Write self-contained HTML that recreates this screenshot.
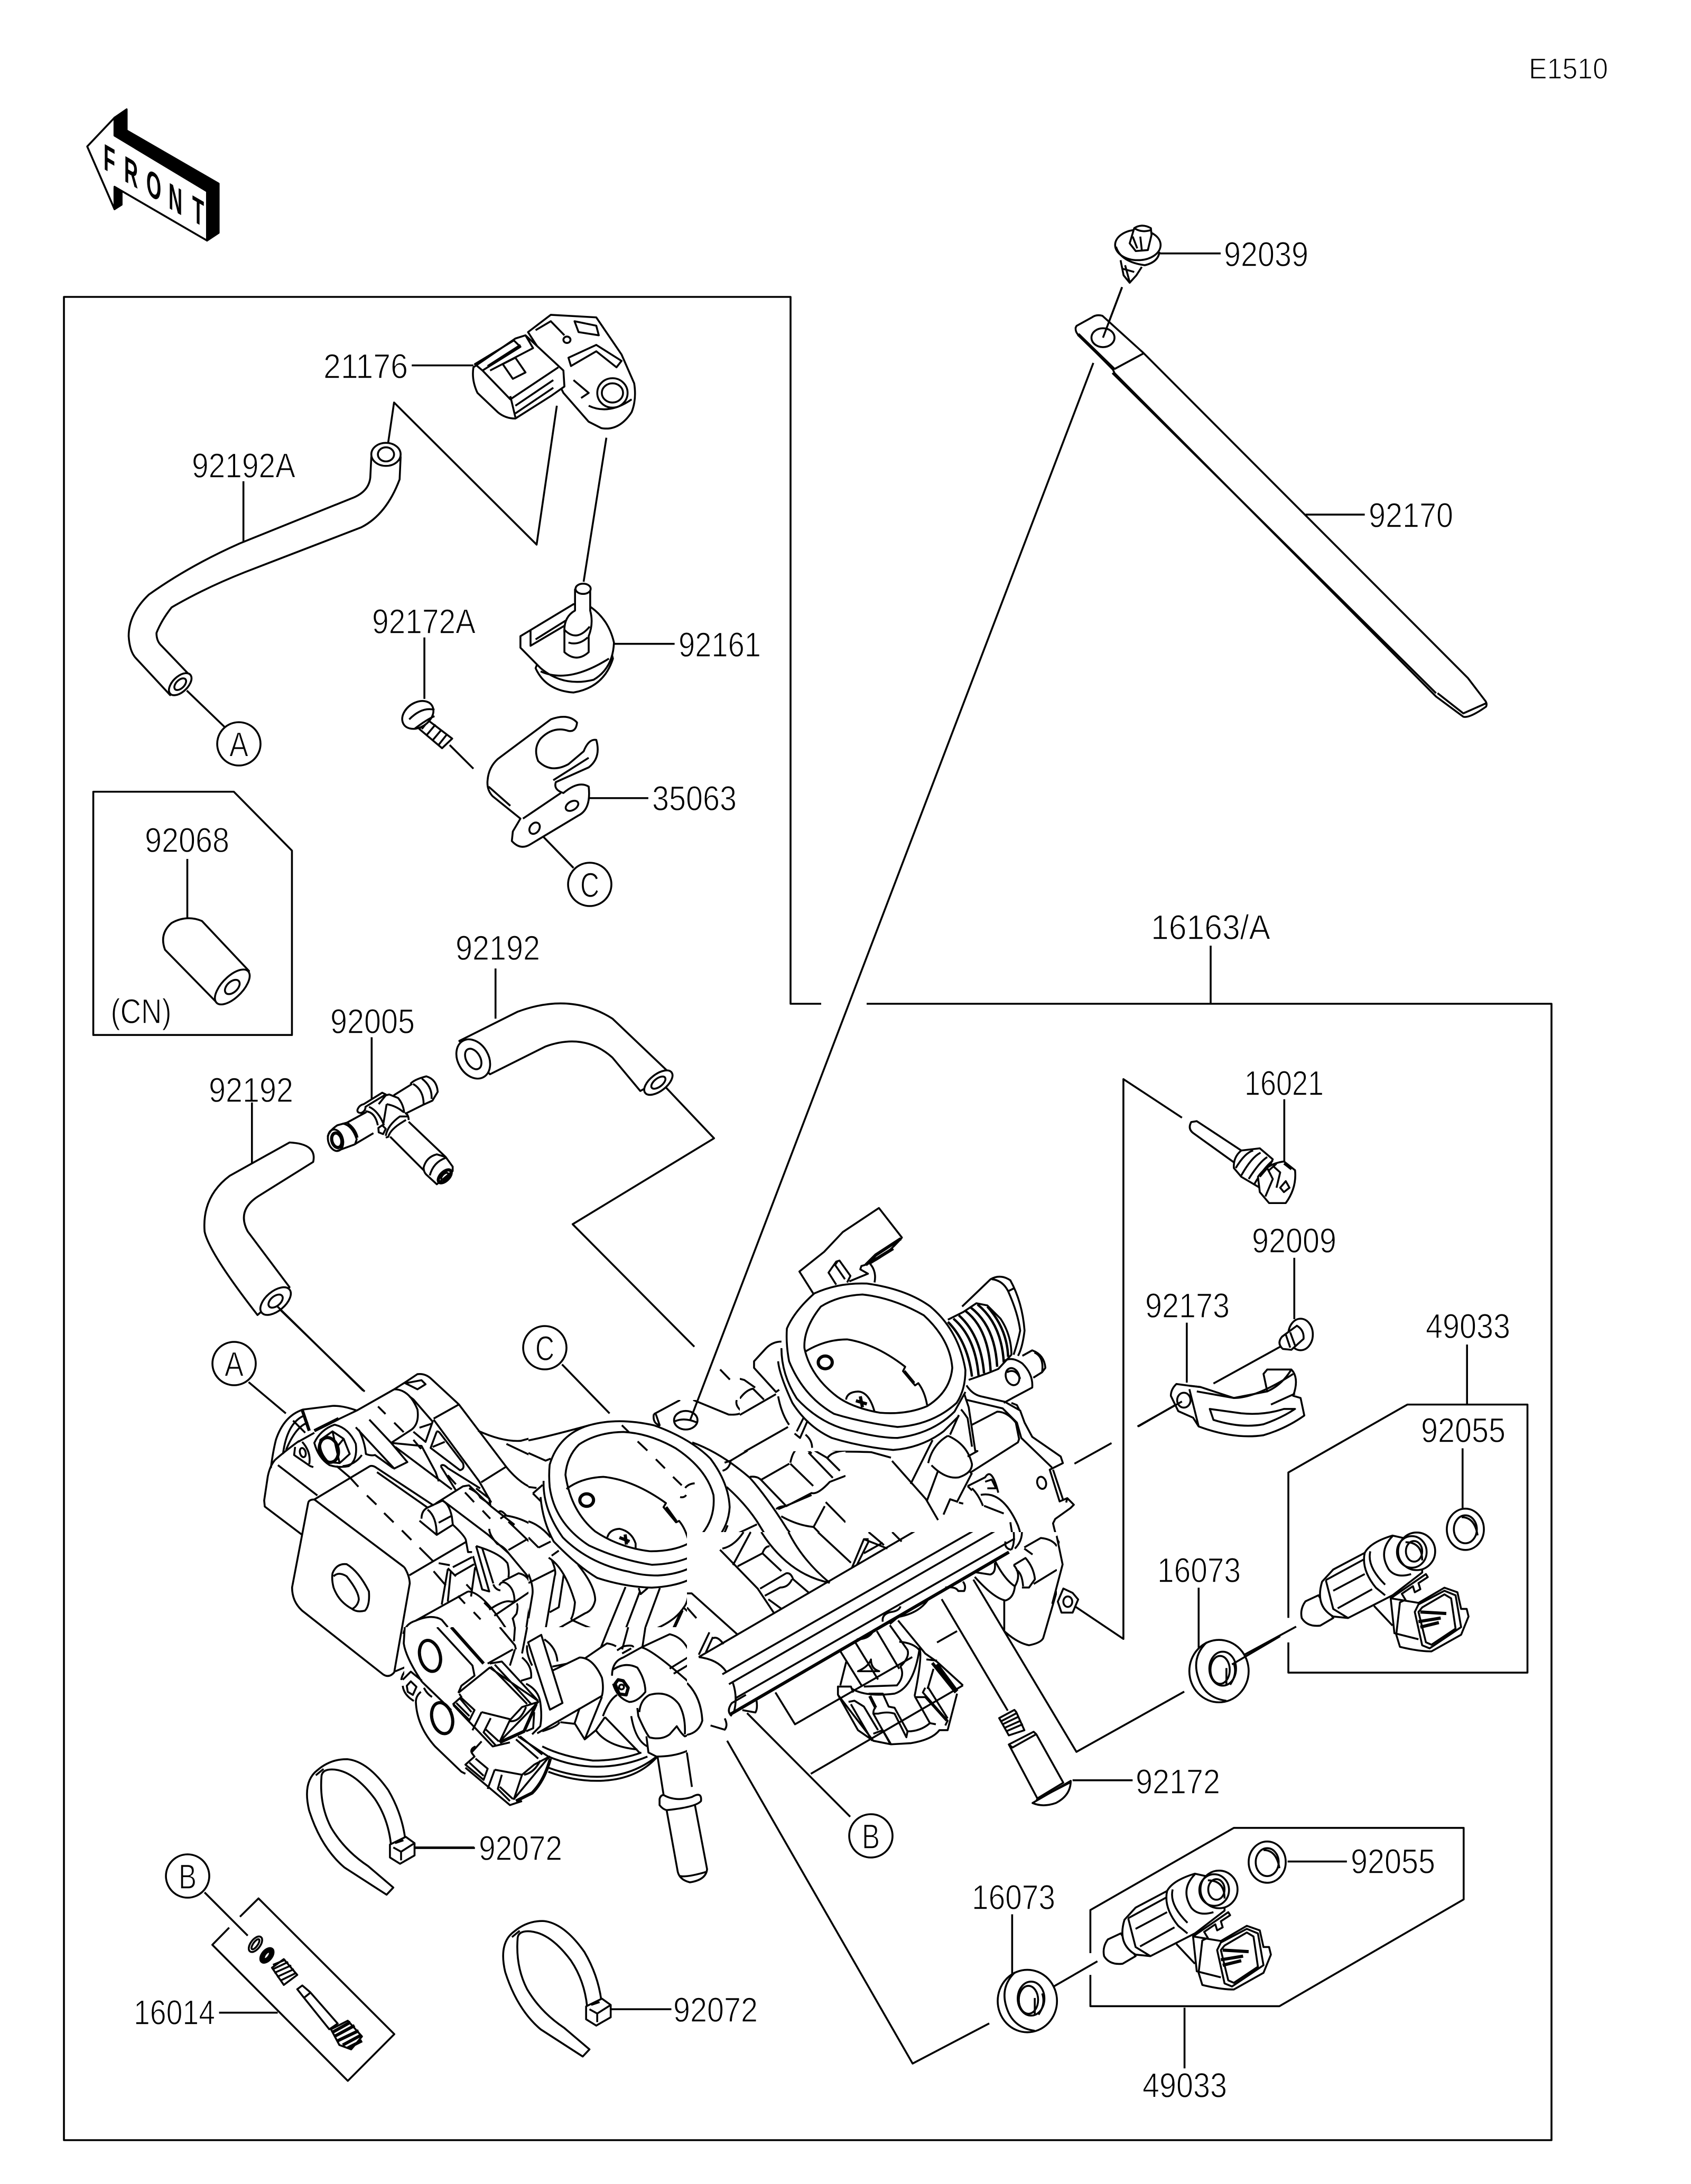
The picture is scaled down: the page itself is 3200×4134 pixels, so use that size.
<!DOCTYPE html>
<html><head><meta charset="utf-8"><style>
html,body{margin:0;padding:0;background:#fff}
svg{display:block}
svg *{vector-effect:non-scaling-stroke}
path,ellipse,circle{fill:none;stroke:#000;stroke-width:3.6;stroke-linejoin:round;stroke-linecap:butt}
.w{fill:#fff}
.k{fill:#000}
.t{stroke-width:6}
.d{stroke-dasharray:42 24}
text{font-family:"Liberation Sans",sans-serif;font-size:66px;text-anchor:middle;fill:#000;stroke:#fff;stroke-width:1.4}
.f{font-weight:bold;font-size:70px;stroke:none}
</style></head><body>
<svg xmlns="http://www.w3.org/2000/svg" width="3200" height="4134" viewBox="0 0 3200 4134">
<rect width="3200" height="4134" fill="#fff"/>
<defs>
<clipPath id="ca"><rect x="400" y="2500" width="600" height="580"/><rect x="400" y="3080" width="365" height="200"/></clipPath>
<clipPath id="cb"><rect x="1000" y="2650" width="400" height="250"/><rect x="1400" y="2747" width="200" height="153"/><rect x="1000" y="2900" width="300" height="180"/></clipPath>
<clipPath id="cc"><rect x="1400" y="2200" width="650" height="547"/><rect x="1600" y="2747" width="450" height="153"/><rect x="2000" y="2900" width="60" height="30"/></clipPath>
<clipPath id="cd"><rect x="720" y="3080" width="580" height="620"/></clipPath>
<clipPath id="ce"><rect x="1300" y="2900" width="700" height="720"/></clipPath>
<g id="tie">
<path class="w" d="M775 780L755 805L630 710Q560 640 525 510Q505 410 550 370Q590 330 640 332Q700 340 760 440Q800 520 810 608L768 630Q760 540 720 470Q660 375 600 368Q565 365 562 390Q555 490 590 570Q630 650 700 705Z"/>
<path d="M545 388L568 366"/>
<path class="w" d="M765 630L812 603L838 625L838 668L795 697L765 675Z"/>
<path d="M798 655L838 625M798 655L775 640M798 655L798 685M780 625L805 615"/>
</g>
<g id="inj">
<path class="w" d="M600 975L565 995Q550 1020 555 1050Q570 1080 605 1075L640 1050Z"/>
<path class="w" d="M610 930L640 890L725 835Q740 800 800 778L880 800L880 900L800 975L680 1050L640 1045Q590 1010 610 930Z"/>
<path d="M620 925L640 1020L680 1050M640 960L725 905M652 1018L745 955M620 925L725 855M725 835Q715 890 755 950L780 975M740 830Q730 880 780 940M800 780Q760 830 790 890Q810 920 850 905"/>
<ellipse class="w" cx="865" cy="830" rx="50" ry="62"/><ellipse cx="852" cy="832" rx="40" ry="52"/><ellipse cx="858" cy="830" rx="22" ry="34"/>
<path d="M835 800Q880 800 880 860"/>
<path class="w" d="M795 985L890 905L895 915L870 935L875 955L860 965L855 945L825 970L835 990L820 998L810 1105L820 1145Q870 1160 905 1160L985 1105L1005 1045L1000 1020L985 1020L975 965L940 950L870 1000Z"/>
<path d="M795 985L805 1100L870 1120M750 1010L800 1075"/>
<path d="M860 1030L880 1140L900 1150L985 1080L970 975L940 960L870 1005ZM870 1030L890 1130L905 1138L970 1085L958 985L940 972L880 1015Z"/>
<path class="t" d="M875 1030L945 1035M870 1062L930 1050M875 1080L925 1065"/>
</g>
<g id="seal">
<ellipse class="w" cx="865" cy="110" rx="80" ry="103"/><path d="M832 15Q785 70 815 150Q835 200 885 208"/>
<ellipse cx="875" cy="102" rx="36" ry="56"/><ellipse cx="868" cy="106" rx="26" ry="46"/><path d="M885 100L885 155M905 85Q915 120 895 155"/>
</g>
<g id="ring"><ellipse class="w" cx="995" cy="740" rx="50" ry="68"/><ellipse cx="995" cy="740" rx="31" ry="46"/><path d="M985 700Q1020 700 1028 760"/></g>
</defs>

<!-- frame -->
<path d="M1554 1900H1496V562H121V4051H2936V1900H1640"/>
<path d="M2291 1790V1900"/>
<path d="M2069 687L1306 2688"/>
<path d="M1376 3295L1727 3906L1872 3830"/>
<path d="M1842 2990L2037 3316L2241 3202"/>
<path d="M1782 3027L1907 3238"/>

<!-- FRONT -->
<g transform="translate(100 150) scale(.9566 1.2117)">
<path class="w" d="M68 105L122 60V88L305 175V252L122 168V203Z"/>
<path class="k" d="M122 60L146 47V80L328 163V240L305 252V175L122 88ZM122 170L122 203L136 196V176Z"/>
</g>
<text class="f" transform="translate(207 326) skewY(30) scale(.52 1)">F</text>
<text class="f" transform="translate(248 350) skewY(30) scale(.52 1)">R</text>
<text class="f" transform="translate(291 375) skewY(30) scale(.52 1)">O</text>
<text class="f" transform="translate(332 401) skewY(30) scale(.52 1)">N</text>
<text class="f" transform="translate(375 424) skewY(30) scale(.52 1)">T</text>

<!-- Z1 upper-left parts -->
<g transform="translate(100 150) scale(.9566 1.2117)">
<path d="M377 628V722M662 575L675 505L957 727L997 510M265 955L340 1012M710 447H832M1050 785L1095 560M1110 882H1230M735 872V968M785 1040L832 1077M1060 1123H1178M960 1175L1030 1232M266 1218V1310"/>
<path d="M80 1113H358L473 1205V1493H80Z"/>
<path class="w" d="M630 590L628 622Q625 645 590 655L370 725Q270 760 190 805Q150 835 150 870Q152 895 165 905L232 962L272 932L215 885Q205 878 205 865Q215 845 235 825Q300 795 380 770L610 700Q660 680 686 625L688 590Z"/>
<ellipse class="w" cx="659" cy="586" rx="29" ry="18"/><ellipse cx="659" cy="586" rx="16" ry="11"/>
<ellipse class="w" cx="252" cy="945" rx="25" ry="13" transform="rotate(-32 252 945)"/><ellipse cx="252" cy="945" rx="13" ry="7" transform="rotate(-32 252 945)"/>
<path class="w" d="M940 395L985 368L1075 372L1125 430L1150 475Q1155 500 1145 520Q1120 550 1085 545L1060 535L1010 490L985 450Z"/>
<path d="M955 392L985 378L1012 400M1032 378L1075 385L1080 400L1040 395ZM1020 435L1075 415L1125 440L1115 450L1075 425L1025 448ZM1030 470L1060 490L1045 498M1060 510Q1100 525 1145 500"/>
<ellipse cx="1017" cy="407" rx="7" ry="5"/>
<ellipse class="w" cx="1107" cy="490" rx="30" ry="23"/><ellipse cx="1107" cy="490" rx="21" ry="15"/>
<path class="w" d="M832 450L915 405L935 400L1010 455L1012 480L985 495L915 530Q895 530 880 520L840 490Q828 470 832 450Z"/>
<path d="M835 445L912 408L925 418L850 455ZM850 455L905 500L1000 450M860 448L925 415M905 495L915 528M915 510L990 470M915 522L990 482M935 400L950 420L865 455"/>
<path d="M890 445L915 435L935 458L910 468Z"/>
<path class="w" d="M955 920Q975 955 1030 958Q1090 950 1108 905L1100 880L965 900Z"/>
<path class="w" d="M925 870L1030 820L1065 825Q1100 845 1110 880Q1108 920 1070 938Q1010 950 965 920L925 888Z"/>
<path d="M945 860L945 885L1020 850M955 875L1030 838M965 925Q1020 945 1100 905"/>
<path class="w" d="M1033 797V830Q1010 840 1012 865V895Q1036 912 1060 895V870Q1070 850 1063 830V797Z"/>
<ellipse class="w" cx="1049" cy="796" rx="15" ry="8"/>
<path d="M1012 860Q1036 880 1062 855M1020 880Q1040 885 1058 872"/>
<path class="w" d="M740 1000L790 1030L770 1045L725 1015Z"/>
<path d="M745 1000L730 1015M757 1008L740 1024M769 1016L752 1032M780 1023L763 1040"/>
<ellipse class="w" cx="722" cy="993" rx="32" ry="20" transform="rotate(-20 722 993)"/>
<path d="M705 1000Q730 980 755 985M715 1015Q740 1000 755 995"/>
<path class="w" d="M860 1095Q862 1075 880 1062L985 1000Q1020 990 1037 1005Q1035 1020 1020 1018Q990 1010 965 1030Q950 1045 960 1065Q985 1085 1020 1070L1050 1050Q1060 1030 1075 1032Q1085 1060 1060 1075L995 1098Q990 1110 1010 1115Q1040 1095 1060 1105Q1065 1140 1040 1150L945 1195Q925 1205 908 1190L910 1175L925 1155L870 1120Q858 1110 860 1095Z"/>
<path d="M862 1105L905 1135M930 1155L1005 1115M990 1095L1060 1060"/>
<ellipse cx="1027" cy="1135" rx="13" ry="7" transform="rotate(-20 1027 1135)"/><ellipse cx="953" cy="1170" rx="11" ry="8" transform="rotate(-30 953 1170)"/>
<path class="w" d="M295 1315Q265 1305 235 1318Q210 1335 222 1360L325 1443L388 1393Z"/>
<ellipse class="w" cx="355" cy="1418" rx="40" ry="18" transform="rotate(-35 355 1418)"/><ellipse cx="355" cy="1418" rx="16" ry="9" transform="rotate(-30 355 1418)"/>
</g>

<!-- display-scale hoses -->
<g transform="scale(2.634)">
<path d="M356 696V732M477 780L513 818L411 880M181 792V838M198 938L262 1000"/>
<path class="w" d="M330 748L372 727Q410 713 440 732L482 772L460 784L440 760Q420 742 392 752L352 772Z"/>
<ellipse class="w" cx="340" cy="761" rx="11" ry="15" transform="rotate(-30 340 761)"/><ellipse cx="340" cy="761" rx="5" ry="8" transform="rotate(-30 340 761)"/>
<ellipse class="w" cx="473" cy="778" rx="12" ry="6" transform="rotate(-38 473 778)"/><ellipse cx="473" cy="778" rx="6" ry="3" transform="rotate(-38 473 778)"/>
<path class="w" d="M208 821L165 845Q145 860 147 885Q150 900 185 945L208 925L178 885Q170 870 185 860L225 835Q228 822 208 821Z"/>
<ellipse class="w" cx="198" cy="935" rx="13" ry="7" transform="rotate(-40 198 935)"/><ellipse cx="198" cy="935" rx="6" ry="3.5" transform="rotate(-40 198 935)"/>
</g>

<!-- T fitting 92005 -->
<g transform="translate(560 1950) scale(.3333)">
<path d="M430 40V390"/>
<path d="M180 605Q190 570 235 540L290 525L400 465M235 685L330 650L440 585M265 530Q320 540 345 620L335 650M290 525Q340 560 350 610"/>
<ellipse cx="225" cy="625" rx="42" ry="62" transform="rotate(-15 225 625)"/><ellipse class="t" cx="232" cy="625" rx="28" ry="42" transform="rotate(-15 232 625)"/>
<path d="M350 450Q360 425 385 420L490 355L510 365L395 435Q395 460 370 470Q345 470 350 450ZM395 460Q450 465 465 540M415 435Q470 460 500 540M470 420L510 370L530 365L580 385Q610 420 615 470M515 420L495 540M515 420Q570 430 610 465M555 370L660 305M650 305Q670 280 740 262Q800 280 805 350L775 400L720 425L620 475M665 305Q725 340 725 420M715 275Q775 320 770 390M620 470Q640 480 640 510M510 600Q520 540 590 490L640 490M510 610L525 605Q535 560 625 510M468 555L490 540L510 560L495 590L470 580ZM640 520L850 720M535 605L725 795M725 780Q740 720 800 705L850 720L890 775L890 800L800 875L740 820Q725 805 725 780ZM760 825Q780 750 850 725"/>
<ellipse class="t" cx="845" cy="830" rx="46" ry="24" transform="rotate(-45 845 830)"/><ellipse cx="845" cy="830" rx="25" ry="13" transform="rotate(-45 845 830)"/>
</g>

<!-- leaders around throttle body -->
<g transform="translate(400 2200) scale(1.0842 .9566)">
<path d="M115 285L265 452M65 435L130 497M612 400L695 497M630 122L843 365M888 410L905 430M935 1090L1115 1295"/>
<path d="M355 1357H460"/>
</g>

<!-- A: left actuator -->
<g clip-path="url(#ca)"><g transform="translate(480 2580) scale(.3827)">
<path d="M615 215L652 252M695 295L742 342M572 280L680 395M475 565L518 612M560 655L607 700M645 742L692 788M733 828L780 875M820 913L885 978M1045 640L1090 688M1132 730L1170 770M1010 1152L1045 1190M1088 1232L1122 1268M1140 1185L1170 1215M1052 1095L1080 1125M195 285L255 345M410 510L475 565"/>
<path d="M510 235Q440 210 390 212L245 230Q150 260 110 380Q95 440 85 520M245 262Q165 300 145 450M270 295Q210 310 160 430"/>
<path class="t" d="M240 232L275 335M300 335L420 275"/>
<path d="M300 335L510 235L695 130Q770 130 810 230Q820 300 780 330L680 395L760 490L695 522L505 318M695 130L750 95L810 55Q850 50 880 80L1015 205L1250 515Q1320 600 1385 620M750 100L810 130L850 105L830 85Z"/>
<path d="M770 165L790 180L885 290L850 390L790 340M820 320L880 300M890 275L1015 205M890 280L1115 585L1175 690M905 340L875 420L1020 530Q1045 525 1035 495L920 345Q910 335 905 340M885 415L945 390M925 510Q935 495 960 520L1120 620M925 510L1000 630M960 555L1000 600M680 395L830 410L900 540L915 585M700 415L980 625M790 380L828 425M1110 335Q1230 390 1320 385Q1450 350 1568 325M1250 400L1450 495L1475 470L1460 500M1125 590L1245 515M1385 645L1420 600L1430 680ZM1385 645L1415 680"/>
<path d="M300 395Q330 330 400 305Q470 320 505 400Q515 480 470 510Q420 520 375 505Q320 470 300 395ZM330 380L390 338L445 375L475 450L425 495L370 490Q320 440 330 380ZM390 338L408 420L445 375M408 420L425 495"/>
<ellipse class="t" cx="372" cy="430" rx="46" ry="62" transform="rotate(-15 372 430)"/>
<path d="M220 390L300 345M205 415L200 455L280 510L295 515M240 390Q285 440 275 500M520 330Q550 390 555 450Q580 460 600 455L690 520M535 455Q500 505 440 510"/>
<ellipse cx="243" cy="443" rx="14" ry="23" transform="rotate(-15 243 443)"/>
<path d="M105 480Q80 510 70 560L52 680L55 710L240 850M120 505L315 655M105 480Q150 440 225 385"/>
<path d="M270 690Q275 675 300 675L575 510Q590 505 610 520L890 705M745 1010Q770 1050 772 1090L695 1530Q670 1560 640 1540L240 1225Q190 1180 190 1110L270 690"/>
<path d="M300 675L745 1010M610 540L860 715"/>
<path d="M390 1040Q410 990 460 995Q520 1030 570 1130Q575 1200 550 1225Q510 1235 485 1215Q420 1180 395 1110Q385 1070 390 1040ZM395 1055Q420 1030 460 1055Q520 1130 520 1170Q515 1200 490 1215"/>
<path d="M830 770Q830 730 860 715L935 680M820 780L905 850L985 800L980 760Q965 690 930 680M860 725Q905 760 905 850M915 790L980 755M900 695L1035 610L1065 605L1175 710L1290 800M1065 620Q1110 640 1120 665L1170 700L1165 670L1100 620M935 680L1160 850L1260 940L1360 1060L1380 1100L1330 1430M985 800Q1050 860 1050 880L1060 935L1080 935M1165 820Q1165 850 1205 895Q1240 910 1260 940M1210 740Q1220 720 1250 755Q1350 770 1430 840Q1480 880 1480 920M1220 770L1250 750M1260 785Q1330 850 1440 960M1260 925L1355 870M770 1050L1050 885M915 990L970 1000M890 1030L950 1100M960 1020L930 1195M975 1030L960 1180M960 1015L1000 1055M995 1050L1090 995M985 1010L1080 960M1075 1155L1095 1010M1100 905L1165 1130L1130 1120L1085 955M1100 905L1130 915L1185 1090M1130 915Q1220 945 1255 990Q1265 1030 1260 1060M1185 1095Q1195 1120 1220 1125M1230 1080L1310 1040Q1360 1050 1370 1100Q1370 1130 1360 1135L1190 1250M1215 1100Q1225 1075 1250 1090Q1290 1115 1290 1180L1270 1180Q1240 1170 1165 1220M1300 1190Q1310 1195 1300 1240L1280 1265M800 1275L1060 1130M740 1340Q750 1290 800 1275Q880 1240 930 1270L960 1306M1060 1130Q1140 1130 1290 1380M1150 1490L1285 1415M1280 1260Q1300 1320 1290 1390"/>
<path d="M700 1525L760 1500M730 1568Q735 1530 770 1505"/>
</g></g>

<!-- B: front bore -->
<g clip-path="url(#cb)"><g transform="translate(1000 2650) scale(.3827)">
<path d="M183 370Q190 280 250 220Q340 160 470 158Q600 165 730 240Q880 340 915 470Q925 580 860 660Q770 750 600 748Q450 730 330 650Q210 550 183 370Z"/>
<path d="M105 320Q150 170 300 125Q440 85 620 125Q800 190 900 290Q990 410 995 530Q990 620 930 690Q810 810 610 815Q450 790 300 720Q130 610 105 430Q100 370 105 320Z"/>
<path d="M75 400Q70 540 170 680Q300 810 500 850Q560 868 640 868Q800 860 900 760Q950 710 985 620M60 480Q70 600 125 700Q240 820 340 880Q480 925 610 928Q770 920 850 855Q920 780 940 735"/>
<path d="M188 440Q260 385 370 380Q520 395 680 510L668 530L730 605L745 598Q780 640 795 712"/>
<path class="t" d="M680 530L730 600"/>
<ellipse class="t" cx="288" cy="495" rx="34" ry="31"/>
<path d="M390 680Q400 640 450 637Q510 650 530 710L530 740"/>
<path class="t" d="M450 680L500 700M478 665L485 715"/>
<path d="M462 125L498 160M540 205L588 250M630 293L675 338M715 380L758 422M775 435Q790 415 822 412M750 480Q770 485 780 470"/>
<path d="M0 200Q100 180 300 125M0 262L85 300L110 290M22 462L70 420M22 462L60 500M0 430L40 435M620 70L750 0M620 70Q615 100 630 115L650 130M630 70L650 128M725 105Q770 85 830 110M815 0L990 72Q1040 75 1060 60L1180 0M1030 0Q1020 30 1060 60"/>
<ellipse cx="778" cy="100" rx="58" ry="46"/>
<path d="M1000 300L1285 130M960 350Q995 340 1000 300M970 310L1000 300M810 210Q950 260 1095 385Q1180 480 1280 640Q1380 760 1490 900M980 430Q1070 510 1130 600L1210 730L1300 880L1390 960M945 735L1140 930L1215 1060M1095 380Q1130 375 1150 395L1275 525L1400 460Q1430 470 1490 405L1568 375M1150 395L1290 315M1225 540Q1240 525 1270 525M1250 575Q1330 620 1410 628L1465 525M1235 540L1400 470M1410 628L1568 790M1470 505L1568 605M1295 315L1408 425M1295 310Q1310 240 1340 240Q1380 240 1400 265M1385 260L1505 385M1415 250L1475 285L1540 350M1480 285Q1500 255 1568 250"/>
<path d="M480 925L355 1230M550 950L440 1240M650 930L580 1120L560 1225M545 930Q550 945 555 960L590 930M835 870L800 945M790 955Q790 1000 765 1030Q720 1100 595 1145M790 955Q810 945 825 960L1035 1165M770 1030L975 1210"/>
<path class="t" d="M760 1040L705 1160"/>
<path d="M730 1145L830 1245M945 735Q985 700 1035 660L1130 615M970 750Q1000 700 1035 680L1100 655M1015 790L1060 680M1040 820L1100 660M1040 825L1160 760L1190 720M1160 760L1250 850M1140 930L1280 855L1300 880M1165 970L1280 905L1300 885M1165 985L1210 1060L1260 1030"/>
<path d="M0 600Q60 620 110 680M0 680L50 730M50 730L110 700M115 770L150 745M115 790Q140 850 130 870M100 780Q180 830 230 1000Q225 1060 210 1085M175 860L150 1025L105 1050M130 870L75 1190M0 905L130 840M245 815Q330 920 330 990Q320 1040 280 1055L130 1140M210 1085Q300 1130 375 1150M165 1120Q210 1170 210 1210L205 1225L155 1250M125 1130L120 1205M0 860Q25 920 20 960L0 1080"/>
</g></g>

<!-- C: rear bore -->
<g clip-path="url(#cc)"><g transform="translate(1400 2270) scale(.4145)">
<path d="M335 430L272 330L385 240L470 150L635 40L740 175Q650 280 555 305L550 320L585 340L500 375M440 390L405 335L440 285L455 280L505 350L490 380M445 285L435 300L480 365M595 295Q625 330 615 380"/>
<path class="t" d="M575 300L620 255L735 180M595 290L700 225"/>
<path d="M215 590Q250 510 340 430Q450 380 580 385Q760 410 870 490Q1000 600 1030 780Q1030 870 990 930Q880 1030 720 1040Q560 1020 430 980Q290 900 225 740Q210 660 215 590Z"/>
<path d="M295 680Q290 590 370 490Q450 440 560 435Q700 450 840 530Q960 640 970 770Q960 880 855 945Q760 985 640 975Q500 950 430 890Q320 800 295 680Z"/>
<path d="M300 695Q390 640 490 640Q620 660 755 765L745 785L800 850L815 840Q845 880 855 940"/>
<path class="t" d="M750 785L795 840"/>
<ellipse class="t" cx="390" cy="745" rx="32" ry="29"/>
<path d="M485 915Q490 880 540 878Q590 880 615 970"/>
<path class="t" d="M530 920L580 935M550 900L560 950"/>
<path d="M190 680Q190 800 260 910Q370 1030 520 1060Q640 1090 720 1090Q880 1070 980 970L1030 880M175 740Q180 800 240 930Q310 1040 420 1090Q550 1130 700 1145Q830 1135 930 1060L1000 990"/>
<path d="M190 650Q150 650 120 680L65 740L65 770L165 880L180 870M0 985L165 890M0 910Q30 870 60 865L110 915M0 820L20 825L70 860M175 900Q190 980 225 1030M250 1070L275 1090L310 1010M260 1060L290 1000M300 1075Q330 1100 330 1135M0 1165L220 1040"/>
<path d="M950 550L1020 515L1080 475L1130 485L1190 545Q1240 620 1240 710L1180 775L1130 795L1045 825"/>
<path d="M950 560Q1040 650 1060 810M975 545Q1075 630 1090 805M1000 530Q1100 620 1115 795M1030 510Q1135 590 1145 785M1055 495Q1165 580 1175 765M1085 480Q1195 570 1205 745M1130 490Q1220 590 1225 720" style="stroke-width:4.5"/>
<path d="M1015 490L1145 365Q1190 340 1235 370Q1290 470 1300 600Q1290 680 1270 715M1150 365Q1200 370 1225 420Q1270 520 1280 600Q1270 650 1250 710M1225 420L1255 405M1205 740Q1240 715 1290 750Q1340 800 1335 860L1250 905L1205 930M1290 715L1335 690Q1390 710 1395 770L1380 790L1340 815M1345 700Q1390 720 1380 790M1220 790Q1260 770 1280 820"/>
<ellipse cx="1245" cy="810" rx="30" ry="40" transform="rotate(-20 1245 810)"/>
<path d="M1035 850Q1060 890 1100 900L1210 925L1280 965L1300 1020L1335 1085L1465 1175L1475 1205L1415 1235L1460 1380L1495 1365L1525 1395L1510 1410L1440 1460L1430 1480Q1450 1568 1460 1568M1030 915L1200 955L1265 1020L1285 1090L1425 1225M1430 1235L1475 1370M1495 1365L1490 1385M1240 930L1265 940L1275 960"/>
<ellipse cx="1378" cy="1295" rx="20" ry="28" transform="rotate(-15 1378 1295)"/>
<path d="M1025 890L1045 950L1075 1150L1085 1150L1040 1175M1060 1030L1175 970Q1220 970 1260 1020L1275 1095L1270 1110L1050 1250M1000 985L960 1075M1010 960Q1020 970 1040 1000L1060 1130M950 1080Q1040 1120 1060 1210Q1060 1250 1000 1270Q940 1280 875 1215M950 1080Q880 1120 860 1205M880 1100L780 1300M905 1240L855 1375M1060 1250L990 1385M990 1380L960 1370L930 1440M1000 1385L1020 1390M420 1155Q450 1150 600 1155L690 1180M695 1195L850 1370L905 1465M400 1175L460 1250M320 1160L420 1275M1040 1310L1120 1270Q1150 1220 1180 1340M1120 1290L1150 1280L1170 1320L1130 1320M1060 1320Q1090 1350 1110 1400M1100 1350Q1200 1330 1270 1490Q1285 1530 1285 1568M1115 1400L1205 1435M1235 1475L1250 1568M1040 1310L1060 1330"/>
</g></g>

<!-- D: lower connectors -->
<g clip-path="url(#cd)"><g transform="translate(720 3080) scale(.3827)">
<path d="M120 0L115 80Q125 150 205 270M280 0L455 190L465 240L400 290L385 325"/>
<path class="t" d="M350 0L510 180"/>
<ellipse class="t" cx="245" cy="142" rx="50" ry="78" transform="rotate(-15 245 142)"/>
<path d="M385 325L540 200L780 365M540 180L600 170L780 365M565 185L745 380M545 195L725 380M640 190L665 110M530 180L655 110M390 330L400 345L360 380L440 460L465 410L400 350M375 375L440 440M395 355L450 420M360 385L555 590L640 570M500 420L455 510M500 420L640 455M545 450L510 520L570 585M520 505L585 565M640 460L590 565L780 370L700 395ZM640 465Q690 470 720 395"/>
<path class="t" d="M770 380L710 515L590 570"/>
<path d="M700 150Q750 190 745 250L695 265M730 75L795 38L900 375L838 408ZM725 90Q720 130 750 190M810 60Q870 100 875 170M850 215L985 150Q1050 150 1095 250Q1105 300 1095 340L775 525M850 195L925 180M1010 155L1090 100L1120 80Q1150 85 1165 95M1170 115L1200 95Q1250 85 1250 100M1195 130L1240 105M1130 0L1090 100M1225 0L1195 110M1310 0L1295 100M885 470Q880 490 800 515M985 400L960 475L1010 555L1095 345M890 470L960 478M1010 555L1065 510L1110 445M1065 510Q1120 590 1270 605M1110 445L1280 620M1100 440Q1130 360 1170 335M590 0L665 90L670 110M665 0L660 70M725 0L700 130M720 280Q780 310 790 370Q800 440 790 490L750 530M760 420L755 500L720 515"/>
<path d="M1145 240Q1145 170 1200 150L1290 100Q1340 110 1500 250L1568 310M1150 210Q1210 170 1270 200Q1310 260 1310 320Q1270 370 1230 370Q1170 350 1150 280"/>
<path class="t" d="M1160 280L1175 260L1200 265L1225 300L1215 335L1180 330Z"/>
<circle cx="1192" cy="296" r="12"/>
<path d="M1280 420Q1285 360 1330 335Q1420 310 1475 380Q1510 440 1505 530M1270 400L1275 440Q1310 520 1330 545Q1390 560 1430 530L1465 490Q1490 530 1505 540L1568 515M1240 440Q1260 560 1320 590M1315 540L1325 620L1365 640Q1470 640 1540 600L1540 550M1290 100L1430 35Q1500 50 1530 130L1565 210M1430 205L1535 140M1450 230L1568 160"/>
<path d="M800 590Q900 640 1050 660Q1180 660 1290 620M830 640Q950 690 1070 690Q1200 690 1320 640M830 695Q950 740 1070 740Q1240 740 1365 640M830 715Q950 760 1070 760Q1260 760 1365 645"/>
<path d="M450 620L500 565M450 620Q445 600 470 590M680 540L830 640M670 555L780 650M690 540L800 630M450 620L465 640L420 680L510 755L530 700L470 650M440 670L510 735M420 695L640 880L700 860M565 705L530 800M565 705L700 730M600 730L580 800L640 860M590 790L655 850M700 730L660 850L835 640L760 680ZM710 730Q760 720 790 660"/>
<path class="t" d="M840 650Q810 760 750 820L670 860"/>
<path d="M175 370Q180 490 270 590L400 715L420 725M175 370Q175 340 200 320M110 290Q115 335 165 365M110 260L150 220L205 265M205 270L350 410M215 300Q230 330 255 345"/>
<ellipse class="t" cx="305" cy="450" rx="50" ry="78" transform="rotate(-15 305 450)"/>
<path d="M130 290L150 268L178 295L160 335L135 320Z"/>
</g></g>
<!-- nipple -->
<g transform="translate(720 3080) scale(.3827)">
<path d="M1370 640L1400 830M1515 620L1540 790M1380 850Q1385 830 1400 830Q1460 865 1540 840Q1590 810 1585 860Q1560 890 1415 905Q1395 900 1380 880ZM1415 905L1470 1210Q1480 1250 1530 1262Q1610 1250 1615 1197L1555 880M1478 1230Q1510 1240 1612 1210"/>
</g>

<!-- E: rail and underside connector -->
<g clip-path="url(#ce)"><g transform="translate(1300 2900) scale(.4464)">
<path d="M50 530L1263 -177M150 603L1342 -78M178 645L1371 -42M205 705L1390 27"/>
<path class="t" d="M180 775L1365 85"/>
<path d="M50 530Q130 540 165 590M195 640Q215 700 200 760M0 640Q60 700 65 800Q50 850 0 860"/>
<path d="M1020 290Q980 345 895 360L860 390M830 380Q825 350 860 340Q900 335 905 315M1095 235Q1140 230 1150 250L1175 250Q1185 230 1170 210M1220 170L1285 180Q1310 175 1305 130M100 820L160 838Q175 820 160 790M235 755L290 765Q300 750 295 715M190 780Q165 760 190 725L250 690M720 455Q770 455 790 420"/>
<path d="M140 75L300 240L370 345M215 145L320 90L400 165M320 90Q330 60 350 60M310 240L420 175Q440 170 450 200L520 260M330 270L395 235Q430 235 445 200M345 285L400 325M0 260L20 260L215 435M0 320L40 365M95 425L50 520M110 445L80 510M110 450Q130 440 155 475M150 70Q200 60 240 0M195 140L270 0M315 0Q430 180 605 215M430 0Q490 120 605 215M555 0L695 130M700 150L750 30L770 30M720 140L770 40M750 90L830 45M750 30L850 70M770 0L835 55M870 0L910 40"/>
<path d="M650 505L740 650M675 550L650 650M715 470L810 625M805 420L900 580M860 395L935 500Q945 530 905 570Q925 610 890 650L750 655M725 590Q770 570 780 540Q780 580 815 590ZM700 665Q760 700 880 685Q960 660 985 500Q960 470 900 465M985 490Q1000 520 965 695M895 375L1010 515L1060 550L1170 650M1015 540L1060 545M1045 580L1020 665M1010 660L1000 680L1105 800L1095 820M965 700L1010 700L1100 800M1020 655L1105 790M965 695L1030 810M1145 685L1105 840L1070 840Q1040 880 950 895L865 900L790 885L725 840L640 690L640 655L695 655L705 680M640 690L790 885M770 685L830 685L855 740L880 745L935 845L930 870L880 770Q850 760 810 770L790 770L860 895M790 770Q790 750 800 745M685 720L710 715L750 740L810 840M695 730L785 885M935 845Q990 845 1030 810L1055 815M790 855L830 840L865 900"/>
<path class="t" d="M1040 555L1140 680M775 695L800 745M1060 560L1145 675"/>
<path d="M375 680L458 815L955 530M525 1025L1170 650M1060 468L1145 420"/>
<path d="M1305 120Q1345 200 1390 230Q1385 280 1350 290Q1300 280 1220 190M1345 290L1345 420Q1400 470 1450 480Q1500 470 1510 450L1568 250M1385 140L1435 110Q1470 150 1475 200L1450 235L1420 235M1395 160Q1420 170 1425 230M1390 230Q1420 180 1385 140M1350 40Q1345 70 1375 75M1385 0Q1390 50 1375 75M1420 0Q1420 40 1390 70M1430 65L1500 25Q1550 30 1568 60M1430 70L1465 95M1470 220L1568 160"/>
</g></g>

<!-- Z3 right column -->
<g transform="translate(1900 1900) scale(.7015 .8291)">
<path d="M480 260L322 172V1450L190 1375M190 1050L290 1003M362 965L470 912M565 867L745 783M493 728V865M783 580V720M756 218V360M1249 778V915M1237 1015V1152M525 1333V1470M640 1490L788 1422M767 1402V1070L1088 915H1412V1527H767V1458"/>
<path d="M142 1215L158 1280L130 1370M145 1365L160 1335L185 1345L200 1360L185 1390L155 1390Z"/>
<ellipse cx="172" cy="1365" rx="12" ry="12"/>
<path class="w" d="M505 270Q495 285 510 295L625 365L640 335L520 268Z"/>
<path class="w" d="M640 335L690 330L725 355L690 420L640 395L620 375Q618 350 640 335Z"/>
<path d="M625 375Q650 340 672 335M640 392Q668 350 692 340M660 400Q690 360 710 350M675 412Q700 375 725 358"/>
<path class="w" d="M755 360L785 380Q790 420 760 455L715 455L690 430L685 395Q710 365 755 360Z"/>
<path d="M690 395L710 375L725 400L705 440M725 370L745 385L735 420M715 380L735 365M760 405L770 420L755 430L745 420ZM755 365L775 378"/>
<ellipse class="w" cx="800" cy="755" rx="33" ry="36"/>
<path class="w" d="M750 760L790 735Q810 745 808 765L775 790L752 788Q735 775 750 760Z"/>
<path d="M760 755L772 785M772 750L785 780"/>
<path class="w" d="M500 872L465 868Q450 880 450 895L470 930L510 945L525 965Q620 995 700 985Q760 970 810 940L800 900L780 895Q795 860 780 840L775 835L710 835L700 845L710 885L620 900L530 875Z"/>
<path d="M500 880L525 965M500 872L530 875M520 885L620 900Q680 900 780 845M720 915L785 890M710 885Q750 870 775 835"/>
<path d="M555 925L565 950Q640 970 700 960Q750 945 785 925L755 925Q700 940 640 935Z"/>
<ellipse class="w" cx="485" cy="905" rx="18" ry="17"/>
<path d="M360 965L480 908"/>
</g>

<!-- Z5 lower right -->
<g transform="translate(1700 3100) scale(.7015 .574)">
<path d="M518 1040V898L905 627H1525V863L1028 1215H518V1112M772 1220V1420M307 912V1108M405 1160L537 1067M1050 738H1210M470 470H632"/>
<use href="#seal"/>
<use href="#seal" transform="translate(-517 1088)"/>
<use href="#ring"/>
<use href="#inj"/>
<path d="M900 88L1030 -5"/>
<path class="w" d="M272 265L313 238L318 245L340 305L298 322Z"/>
<path d="M278 275L320 248M282 285L325 260M287 297L331 273M292 308L336 285"/>
<path class="w" d="M298 352L365 310L372 318L445 478L375 530Z"/>
<path d="M298 352L308 362L372 318"/>
<path class="w" d="M362 545L465 472Q465 520 425 545Q390 560 362 545Z"/>
<path d="M372 535L462 478"/>
</g>

<g transform="translate(374 -640)"><g transform="translate(1700 3100) scale(.7015 .574)"><use href="#inj"/></g></g>
<g transform="translate(375 -630)"><g transform="translate(1700 3100) scale(.7015 .574)"><use href="#ring"/></g></g>

<!-- Z4 lower left -->
<g transform="translate(250 3150) scale(.6378 .5421)">
<path d="M320 882L375 818L778 1292L640 1455L238 980L288 920M215 797L343 948M258 1217H432M840 640H1015M1420 1205H1600"/>
<use href="#tie"/>
<use href="#tie" transform="translate(582 565)"/>
<ellipse cx="366" cy="978" rx="15" ry="30" transform="rotate(30 366 978)"/><ellipse cx="366" cy="978" rx="7" ry="20" transform="rotate(30 366 978)"/>
<ellipse class="k" cx="400" cy="1017" rx="16" ry="28" transform="rotate(30 400 1017)"/><ellipse class="w" cx="400" cy="1017" rx="6" ry="14" transform="rotate(30 400 1017)"/>
<path class="w" d="M415 1060L450 1030L490 1085L450 1120Z"/>
<path d="M418 1050L455 1032M418 1065L463 1040M422 1078L472 1052M430 1092L480 1065M440 1105L487 1078"/>
<path class="w" d="M490 1135L505 1122L528 1145L610 1255L585 1275L510 1165Z"/>
<path d="M510 1165L528 1148"/>
<path class="w" d="M590 1275L640 1245L682 1300L650 1345L615 1330Z"/>
<path class="t" d="M595 1285L648 1250M600 1300L660 1262M610 1315L672 1280M625 1330L680 1295M640 1340L682 1315"/>
</g>

<!-- 92039 + 92170 -->
<g transform="translate(2000 400) scale(.574 .6378)">
<path d="M340 125H540M215 225L152 375M820 900H1015"/>
<path class="w" d="M62 345Q60 360 75 370L185 470L190 480L1250 1440L1340 1500Q1360 1505 1415 1470Q1420 1460 1410 1450L1355 1385L285 420L150 310Q130 305 115 315L65 340Z"/>
<path d="M190 468L285 422M183 480L1250 1430M1255 1430L1340 1490L1415 1460"/>
<path class="t" d="M70 365L190 470"/>
<ellipse cx="152" cy="375" rx="38" ry="28"/>
<path d="M152 375L215 225"/>
<ellipse class="w" cx="267" cy="100" rx="75" ry="45"/>
<path d="M195 105Q210 150 290 160Q335 150 338 120"/>
<path class="w" d="M255 50Q280 35 310 50L312 70L300 115L260 118L240 95Z"/>
<path d="M255 50Q280 65 312 55M250 75L265 110M275 75L280 115M210 145L220 190L240 212L262 190L280 165M215 170L255 180M225 160L240 210"/>
</g>

<!-- callouts -->
<circle class="w" cx="452" cy="1408" r="41"/><circle class="w" cx="1116" cy="1674" r="41"/><circle class="w" cx="443" cy="2581" r="41"/><circle class="w" cx="1031" cy="2551" r="41"/><circle class="w" cx="1648" cy="3475" r="41"/><circle class="w" cx="355" cy="3551" r="41"/>
<text x="452" y="1432" textLength="36" lengthAdjust="spacingAndGlyphs">A</text>
<text x="1116" y="1698" textLength="36" lengthAdjust="spacingAndGlyphs">C</text>
<text x="443" y="2605" textLength="36" lengthAdjust="spacingAndGlyphs">A</text>
<text x="1031" y="2575" textLength="36" lengthAdjust="spacingAndGlyphs">C</text>
<text x="1648" y="3499" textLength="34" lengthAdjust="spacingAndGlyphs">B</text>
<text x="355" y="3575" textLength="34" lengthAdjust="spacingAndGlyphs">B</text>

<!-- labels -->
<g transform="translate(0 3)">
<text x="2968" y="146" style="font-size:56px" textLength="150" lengthAdjust="spacingAndGlyphs">E1510</text>
<text x="2396" y="501" textLength="160" lengthAdjust="spacingAndGlyphs">92039</text>
<text x="2670" y="995" textLength="160" lengthAdjust="spacingAndGlyphs">92170</text>
<text x="692" y="713" textLength="160" lengthAdjust="spacingAndGlyphs">21176</text>
<text x="461" y="901" textLength="196" lengthAdjust="spacingAndGlyphs">92192A</text>
<text x="802" y="1196" textLength="196" lengthAdjust="spacingAndGlyphs">92172A</text>
<text x="1362" y="1240" textLength="156" lengthAdjust="spacingAndGlyphs">92161</text>
<text x="1314" y="1531" textLength="160" lengthAdjust="spacingAndGlyphs">35063</text>
<text x="354" y="1610" textLength="160" lengthAdjust="spacingAndGlyphs">92068</text>
<text x="267" y="1934" textLength="115" lengthAdjust="spacingAndGlyphs">(CN)</text>
<text x="942" y="1814" textLength="160" lengthAdjust="spacingAndGlyphs">92192</text>
<text x="705" y="1953" textLength="160" lengthAdjust="spacingAndGlyphs">92005</text>
<text x="475" y="2083" textLength="160" lengthAdjust="spacingAndGlyphs">92192</text>
<text x="2291" y="1775" textLength="226" lengthAdjust="spacingAndGlyphs">16163/A</text>
<text x="2430" y="2070" textLength="150" lengthAdjust="spacingAndGlyphs">16021</text>
<text x="2449" y="2368" textLength="160" lengthAdjust="spacingAndGlyphs">92009</text>
<text x="2247" y="2491" textLength="160" lengthAdjust="spacingAndGlyphs">92173</text>
<text x="2778" y="2530" textLength="160" lengthAdjust="spacingAndGlyphs">49033</text>
<text x="2769" y="2727" textLength="160" lengthAdjust="spacingAndGlyphs">92055</text>
<text x="2269" y="2992" textLength="158" lengthAdjust="spacingAndGlyphs">16073</text>
<text x="2229" y="3392" textLength="160" lengthAdjust="spacingAndGlyphs">92172</text>
<text x="985" y="3518" textLength="158" lengthAdjust="spacingAndGlyphs">92072</text>
<text x="2636" y="3543" textLength="160" lengthAdjust="spacingAndGlyphs">92055</text>
<text x="1918" y="3611" textLength="158" lengthAdjust="spacingAndGlyphs">16073</text>
<text x="1354" y="3824" textLength="160" lengthAdjust="spacingAndGlyphs">92072</text>
<text x="330" y="3829" textLength="154" lengthAdjust="spacingAndGlyphs">16014</text>
<text x="2242" y="3967" textLength="160" lengthAdjust="spacingAndGlyphs">49033</text>
</g>
</svg>
</body></html>
